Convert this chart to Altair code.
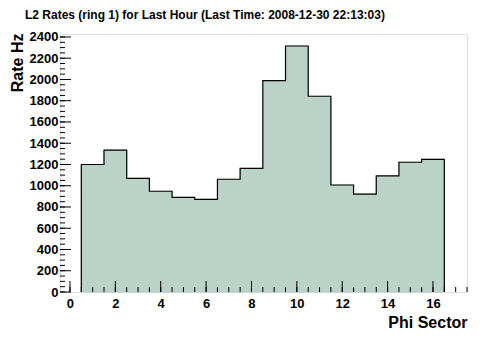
import altair as alt
import pandas as pd
import numpy as np

# ---- data ----
sectors = list(range(1, 17))
rates = [1200, 1335, 1070, 948, 891, 872, 1061, 1164,
         1990, 2315, 1842, 1007, 922, 1092, 1221, 1249]

y_major = list(range(0, 2401, 200))
y_minor = list(range(0, 2401, 50))
x_major = list(range(0, 17, 2))
x_minor = [v / 2 for v in range(0, 36)]

FONT = "Liberation Sans"
FILL = "#bad2c7"
X_DOM = [-0.44, 17.5]
Y_DOM = [0, 2428]
W, H = 407, 258

bars = pd.DataFrame({
    "sector": sectors,
    "start": [s - 0.5 for s in sectors],
    "end": [s + 0.5 for s in sectors],
    "rate": rates,
})

# outline points for the step contour
ox = [sectors[0] - 0.5] + [s - 0.5 for s in sectors] + [sectors[-1] + 0.5, sectors[-1] + 0.5]
oy = [0] + rates + [rates[-1], 0]
outline = pd.DataFrame({"x": ox, "y": oy, "i": list(range(len(ox)))})

xs = alt.Scale(domain=X_DOM, nice=False, zero=False)
ys = alt.Scale(domain=Y_DOM, nice=False, zero=False)

x_axis = alt.Axis(values=x_major, ticks=False, tickSize=0, domain=False, grid=False,
                  labelFont=FONT, labelFontWeight="bold", labelFontSize=13,
                  labelColor="black", labelPadding=5, format="d", labelOverlap=False,
                  title="Phi Sector", titleFont=FONT, titleFontWeight="bold",
                  titleFontSize=16, titleColor="black", titleAlign="right",
                  titleAnchor="end", titleX=W, titleY=35, titleBaseline="alphabetic")
y_axis = alt.Axis(values=y_major, ticks=False, tickSize=0, domain=False, grid=False,
                  labelFont=FONT, labelFontWeight="bold", labelFontSize=13,
                  labelColor="black", labelPadding=2, format="d", labelOverlap=False,
                  title="Rate Hz", titleFont=FONT, titleFontWeight="bold",
                  titleFontSize=16, titleColor="black", titleAlign="right",
                  titleAngle=-90, titleX=-38, titleY=-1, titleBaseline="alphabetic")

rect = alt.Chart(bars).mark_rect(fill=FILL, stroke=FILL, strokeWidth=1).encode(
    x=alt.X("start:Q", scale=xs, axis=x_axis),
    x2="end:Q",
    y=alt.Y("rate:Q", scale=ys, axis=y_axis),
    y2=alt.datum(0),
)

line = alt.Chart(outline).mark_line(color="black", strokeWidth=1.2,
                                    interpolate="step-after").encode(
    x=alt.X("x:Q", scale=xs, axis=x_axis),
    y=alt.Y("y:Q", scale=ys, axis=y_axis),
    order="i:Q",
)

ymaj = alt.Chart(pd.DataFrame({"v": y_major})).mark_rule(color="black", strokeWidth=1).encode(
    y=alt.Y("v:Q", scale=ys, axis=y_axis), x=alt.value(0), x2=alt.value(11))
ymin = alt.Chart(pd.DataFrame({"v": y_minor})).mark_rule(color="black", strokeWidth=1).encode(
    y=alt.Y("v:Q", scale=ys, axis=y_axis), x=alt.value(0), x2=alt.value(5))
xmaj = alt.Chart(pd.DataFrame({"v": x_major})).mark_rule(color="black", strokeWidth=1).encode(
    x=alt.X("v:Q", scale=xs, axis=x_axis), y=alt.value(H), y2=alt.value(H - 11))
xmin = alt.Chart(pd.DataFrame({"v": x_minor})).mark_rule(color="black", strokeWidth=1).encode(
    x=alt.X("v:Q", scale=xs, axis=x_axis), y=alt.value(H), y2=alt.value(H - 5))

chart = alt.layer(rect, line, ymin, ymaj, xmin, xmaj).properties(
    width=W, height=H,
    autosize=alt.AutoSizeParams(type="none"),
    padding={"left": 52, "top": 26, "right": 17, "bottom": 44},
    title=alt.TitleParams(
        "L2 Rates (ring 1) for Last Hour (Last Time: 2008-12-30 22:13:03)",
        anchor="start", frame="group", font=FONT, fontWeight="bold",
        fontSize=12, color="black", dx=-35, offset=9),
).configure_view(stroke="black", strokeWidth=1).configure(background="white")

chart.save("out.html", embed_options={"renderer": "svg", "actions": False})
